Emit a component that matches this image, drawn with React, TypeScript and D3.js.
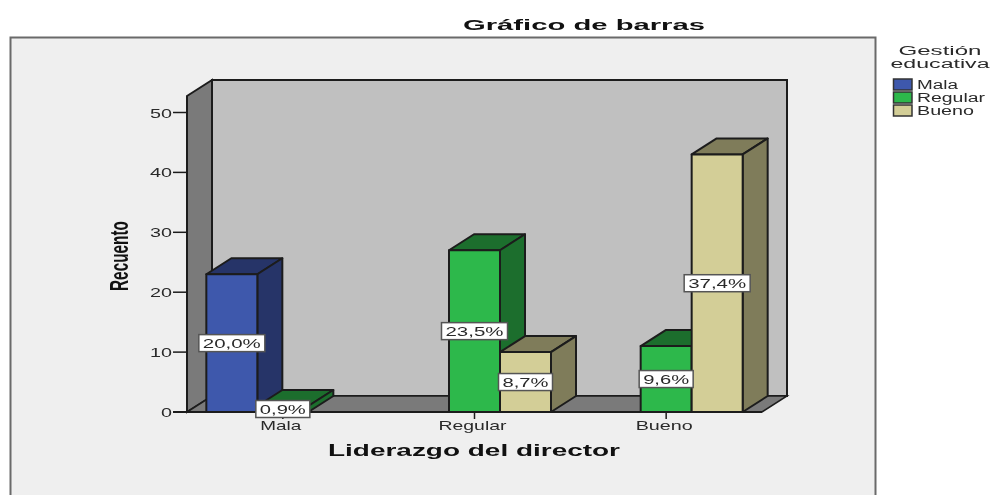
import React from "react";
import * as d3 from "d3";

const categories = ["Mala", "Regular", "Bueno"];
const seriesNames = ["Mala", "Regular", "Bueno"];
const malaCounts = [23, 1, 0];
const regularCounts = [0, 27, 10];
const buenoCounts = [0, 11, 43];
const malaLabels = ["20,0%", "0,9%", ""];
const regularLabels = ["", "23,5%", "8,7%"];
const buenoLabels = ["", "9,6%", "37,4%"];
const yTicks = [0, 10, 20, 30, 40, 50];

const counts = [malaCounts, regularCounts, buenoCounts];
const labels = [malaLabels, regularLabels, buenoLabels];
const faces = [
  { front: "#3e58ac", side: "#263468" },
  { front: "#2db84b", side: "#1c6e2d" },
  { front: "#d3ce97", side: "#7f7c5a" },
];

const DX = 25;
const DY = -16;
const INK = "#1c1c1c";
const FONT = "'Liberation Sans', Arial, sans-serif";

const y = d3.scaleLinear().domain([0, 50]).range([412, 112.5]);
const x0 = d3.scaleBand<string>().domain(categories).range([187, 762]);
const x1 = d3.scaleBand<string>().domain(seriesNames).range([0, 153]);
const groupLeft = (c: string) => (x0(c) as number) + x0.bandwidth() / 2 - 76.5;
const top = y(50) - 16.5;

const pts = (p: number[][]) => p.map((q) => q.join(",")).join(" ");

function T({ x, y: yy, w, size = 13, weight = 400, anchor = "middle", fill = "#2a2a2a", children, ...rest }: any) {
  return (
    <text x={x} y={yy} textLength={w} lengthAdjust="spacingAndGlyphs" fontSize={size} fontWeight={weight}
      textAnchor={anchor} fill={fill} fontFamily={FONT} {...rest}>{children}</text>
  );
}

export default function App() {
  const base = y(0);
  const left = 187;
  const right = 762;
  const bars = categories.flatMap((c, ci) =>
    seriesNames.map((s, si) => ({ c, ci, s, si, v: counts[ci][si], label: labels[ci][si] })).filter((d) => d.v > 0)
  );
  const labelWidth = (t: string) => (t.length >= 5 ? 66 : 54);
  const textWidth = (t: string) => (t.length >= 5 ? 58 : 46);
  return (
    <svg width={991} height={495} style={{ position: "absolute", left: 0, top: 0, background: "#fff", filter: "blur(0.4px)" }}>
      <path d="M10.5 495 V37.5 H875.5 V495" fill="#efefef" stroke="#6a6a6a" strokeWidth={2} />
      <T x={584} y={30} w={242} size={15.5} weight={700} fill="#111">Gráfico de barras</T>

      {/* walls */}
      <rect x={left + DX} y={top + DY} width={right - left} height={base - top} fill="#c0c0c0" stroke={INK} strokeWidth={2} />
      <polygon points={pts([[left, top], [left + DX, top + DY], [left + DX, base + DY], [left, base]])} fill="#7a7a7a" stroke={INK} strokeWidth={2} />
      <polygon points={pts([[left, base], [left + DX, base + DY], [right + DX, base + DY], [right, base]])} fill="#7a7a7a" stroke={INK} strokeWidth={1.5} />

      {/* y axis */}
      <line x1={left - 14} x2={right} y1={base} y2={base} stroke={INK} strokeWidth={2} />
      {yTicks.map((t) => (
        <g key={t}>
          <line x1={left - 14} x2={left} y1={y(t)} y2={y(t)} stroke={INK} strokeWidth={1.5} />
          <T x={172} y={y(t) + 5} w={t === 0 ? 11 : 22} anchor="end">{t}</T>
        </g>
      ))}
      <T x={0} y={0} w={70} size={26} weight={700} fill="#111" transform="translate(128,256) rotate(-90)">Recuento</T>

      {/* x axis */}
      {categories.map((c, i) => {
        const cx = (x0(c) as number) + x0.bandwidth() / 2;
        return (
          <g key={c}>
            <line x1={cx} x2={cx} y1={base} y2={base + 7} stroke={INK} strokeWidth={1.5} />
            <T x={cx - 2} y={430} w={[41, 68, 57][i]}>{c}</T>
          </g>
        );
      })}
      <T x={474} y={456} w={292} size={16.5} weight={700} fill="#111">Liderazgo del director</T>

      {/* bars */}
      {bars.map((d) => {
        const xl = groupLeft(d.c) + (x1(d.s) as number);
        const w = x1.bandwidth();
        const yt = y(d.v);
        const f = faces[d.si];
        return (
          <g key={d.c + d.s} stroke={INK} strokeWidth={2} strokeLinejoin="round">
            <polygon points={pts([[xl, yt], [xl + DX, yt + DY], [xl + w + DX, yt + DY], [xl + w, yt]])} fill={f.side} />
            <polygon points={pts([[xl + w, yt], [xl + w + DX, yt + DY], [xl + w + DX, base + DY], [xl + w, base]])} fill={f.side} />
            <rect x={xl} y={yt} width={w} height={base - yt} fill={f.front} />
          </g>
        );
      })}

      {/* data labels */}
      {bars.map((d) => {
        const cx = groupLeft(d.c) + (x1(d.s) as number) + x1.bandwidth() / 2;
        const cy = y(d.v / 2);
        const bw = labelWidth(d.label);
        return (
          <g key={"l" + d.c + d.s}>
            <rect x={cx - bw / 2} y={cy - 8.5} width={bw} height={17} fill="#fff" stroke="#555" strokeWidth={1.5} />
            <T x={cx} y={cy + 4.5} w={textWidth(d.label)} size={13}>{d.label}</T>
          </g>
        );
      })}

      {/* legend */}
      <T x={940} y={55} w={83} size={12.5}>Gestión</T>
      <T x={940} y={68} w={99} size={12.5}>educativa</T>
      {seriesNames.map((s, i) => {
        const ly = 79 + i * 13;
        return (
          <g key={s}>
            <rect x={893.5} y={ly} width={18.5} height={11} fill={faces[i].front} stroke="#333" strokeWidth={1.5} />
            <T x={917} y={ly + 10} w={[41, 68, 57][i]} anchor="start" size={12}>{s}</T>
          </g>
        );
      })}
    </svg>
  );
}
